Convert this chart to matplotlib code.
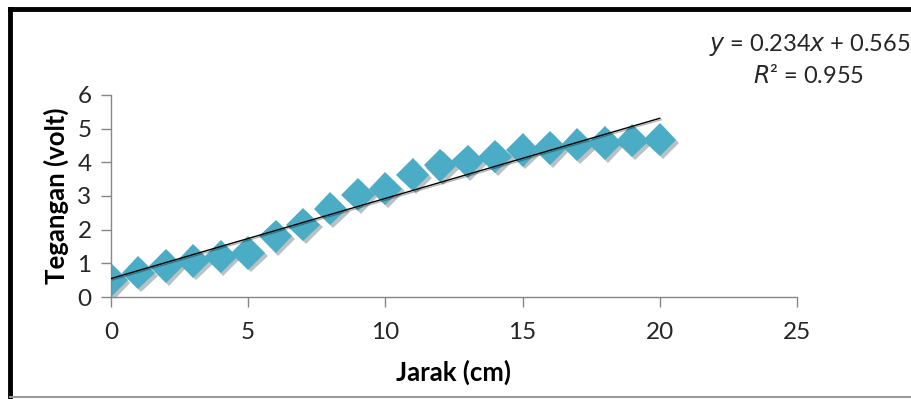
import matplotlib.pyplot as plt
import matplotlib.patheffects as pe
import numpy as np
from matplotlib.lines import Line2D

plt.rcParams['font.family'] = ['Lato', 'DejaVu Sans']

# jarak (cm) vs tegangan (volt)
jarak = [0, 1, 2, 3, 4, 5, 6, 7, 8, 9, 10,
         11, 12, 13, 14, 15, 16, 17, 18, 19, 20]
tegangan = [0.50, 0.72, 0.92, 1.07, 1.20, 1.31, 1.80, 2.15, 2.62, 3.04, 3.22,
            3.63, 3.91, 4.03, 4.17, 4.37, 4.42, 4.52, 4.57, 4.64, 4.67]
x_ticks = [0, 5, 10, 15, 20, 25]
y_ticks = [0, 1, 2, 3, 4, 5, 6]
eq_text = '$y$ = 0.234$x$ + 0.565'
r2_text = '$R$² = 0.955'

fig = plt.figure(figsize=(9.11, 3.99), dpi=100)
ax = fig.add_axes([0.1218, 0.2556, 0.753, 0.5064])

marker_color = '#4BACC6'
grey = '#868686'

shadow = [pe.SimplePatchShadow(offset=(2, -2), alpha=0.3), pe.Normal()]
ax.plot(jarak, tegangan, linestyle='none', marker='D', markersize=17,
        color=marker_color, markeredgewidth=0, path_effects=shadow, zorder=2)

# linear trendline
coef = np.polyfit(jarak, tegangan, 1)
xs = np.array([jarak[0], jarak[-1]])
ax.plot(xs, np.polyval(coef, xs), color='black', lw=1.0, zorder=3,
        path_effects=[pe.SimpleLineShadow(offset=(1, -1), alpha=0.3), pe.Normal()])

ax.set_xlim(0, 25)
ax.set_ylim(0, 6)
ax.set_xticks(x_ticks)
ax.set_yticks(y_ticks)
for s in ['top', 'right']:
    ax.spines[s].set_visible(False)
for s in ['left', 'bottom']:
    ax.spines[s].set_color(grey)
    ax.spines[s].set_linewidth(1.0)
ax.tick_params(axis='both', direction='out', length=7, width=1.0, color=grey,
               labelsize=17.5, labelcolor='#262626')
ax.tick_params(axis='x', pad=11)
ax.tick_params(axis='y', pad=7)

ax.set_xlabel('Jarak (cm)', fontsize=18.5, fontweight='bold', labelpad=12)
ax.set_ylabel('Tegangan (volt)', fontsize=18.5, fontweight='bold', labelpad=6)

fig.text(0.889, 0.887, eq_text, fontsize=17, ha='center', va='center', color='#262626')
fig.text(0.887, 0.812, r2_text, fontsize=17, ha='center', va='center', color='#262626')

# border of the pasted picture
fig.add_artist(Line2D([0.011, 0.011], [0.0, 0.978], color='black', lw=3.5,
                      transform=fig.transFigure, solid_capstyle='projecting'))
fig.add_artist(Line2D([0.011, 1.0], [0.978, 0.978], color='black', lw=3.5,
                      transform=fig.transFigure, solid_capstyle='projecting'))
fig.add_artist(Line2D([0.011, 1.0], [0.006, 0.006], color='#9a9a9a', lw=1.5,
                      transform=fig.transFigure))

fig.savefig('out.png', dpi=100)
